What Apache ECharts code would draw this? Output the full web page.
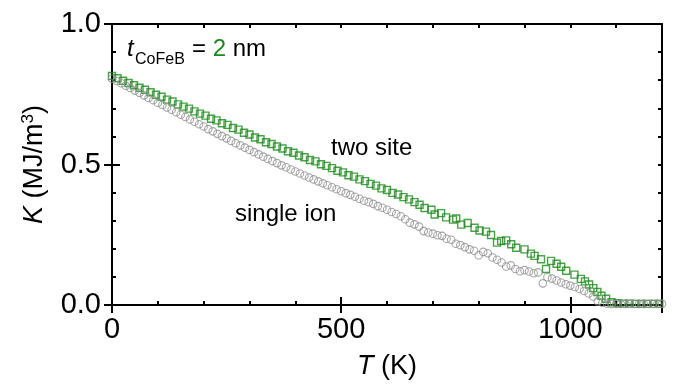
<!DOCTYPE html>
<html>
<head>
<meta charset="utf-8">
<script src="https://cdn.jsdelivr.net/npm/echarts@6/dist/echarts.min.js"></script>
<style>
  html, body { margin: 0; padding: 0; background: #fff; }
  #main { width: 678px; height: 385px; }
</style>
</head>
<body>
<div id="main"></div>
<script>
// single ion (grey circles)
const tSingle = [0,10,20,30,40,50,60,70,80,90,100,110,120,130,140,150,160,170,180,190,
  200,210,220,230,240,250,260,270,280,290,300,310,320,330,340,350,360,370,380,390,
  400,410,420,430,440,450,460,470,480,490,500,510,520,530,540,550,560,570,580,590,
  600,610,620,630,640,650,660,670,680,690,700,710,720,730,740,750,760,770,780,790,
  800,810,820,830,840,850,860,870,880,890,900,910,920,930,940,950,960,970,980,990,
  1000,1010,1020,1030,1040,1050,1060,1070,1080,1090,1100,1110,1120,1130,1140,1150,1160,1170,1180,1190,1200];
const kSingle = [.805,.797,.789,.780,.772,.763,.755,.746,.737,.729,.720,.712,.703,.695,.686,.677,.669,.660,.652,.643,
  .635,.626,.618,.609,.601,.593,.584,.576,.568,.560,.552,.544,.536,.528,.520,.512,.505,.497,.490,.482,
  .475,.468,.461,.454,.447,.440,.433,.426,.419,.412,.405,.398,.392,.385,.378,.371,.366,.360,.352,.346,
  .339,.331,.324,.316,.305,.293,.287,.279,.263,.258,.254,.248,.246,.236,.232,.218,.213,.206,.198,.193,
  .177,.189,.184,.169,.161,.151,.137,.141,.128,.120,.124,.119,.113,.116,.077,.099,.094,.087,.080,.074,
  .069,.064,.057,.050,.041,.030,.013,.008,.005,.004,.004,.004,.004,.004,.004,.004,.004,.004,.004,.004,.004];

// two site (green squares)
const tTwo = [0,12,24,36,48,60,72,84,96,108,120,132,144,156,168,180,192,204,216,228,
  240,252,264,276,288,300,312,324,336,348,360,372,384,396,408,420,432,444,456,468,
  480,492,504,516,528,540,552,564,576,588,600,612,624,636,648,660,671,682,697,704,
  718,729,744,751,762,776,791,802,816,827,840,849,860,871,882,900,914,922,936,947,
  958,970,980,991,1009,1023,1032,1041,1050,1059,1068,1078,1090,1103,1116,1129,1142,1155,1168,1181,1194];
const kTwo = [.815,.807,.798,.790,.782,.773,.766,.757,.748,.741,.731,.724,.714,.706,.699,.689,.681,.674,.663,.657,
  .647,.641,.630,.624,.613,.607,.596,.590,.579,.573,.564,.557,.547,.542,.532,.526,.516,.511,.501,.495,
  .487,.478,.472,.462,.457,.447,.441,.431,.425,.415,.409,.399,.393,.384,.376,.366,.357,.345,.339,.322,
  .327,.312,.304,.308,.286,.292,.275,.265,.261,.249,.222,.228,.230,.216,.204,.198,.183,.175,.163,.128,
  .157,.147,.136,.122,.108,.093,.084,.073,.060,.046,.033,.022,.010,.006,.005,.005,.004,.004,.004,.004,.004];

const xLabels = [0, 500, 1000];
const yLabels = [0, 0.5, 1.0];

const FONT = 'Liberation Sans, Arial, sans-serif';
const GREEN = '#1b8a1b';
const GREY = '#909090';

const chart = echarts.init(document.getElementById('main'), null, { renderer: 'canvas' });

function frameAxis(pos, interval, len, extra) {
  return Object.assign({
    type: 'value',
    position: pos,
    interval: interval,
    axisLine: { show: true, onZero: false, lineStyle: { color: '#000', width: 2 } },
    axisTick: { show: true, inside: true, length: len, lineStyle: { color: '#000', width: 2 } },
    axisLabel: { show: false },
    splitLine: { show: false }
  }, extra);
}

const xr = { min: 0, max: 1200 };
const yr = { min: 0, max: 1 };

const option = {
  backgroundColor: '#fff',
  animation: false,
  grid: { left: 112, right: 16, top: 24, bottom: 77, containLabel: false },
  xAxis: [
    frameAxis('bottom', 100, 4, Object.assign({
      name: '{i|T} (K)',
      nameLocation: 'middle',
      nameGap: 48,
      nameTextStyle: {
        color: '#000', fontSize: 27, fontFamily: FONT,
        rich: { i: { fontStyle: 'italic', fontSize: 27, fontFamily: FONT, color: '#000' } }
      },
      axisLabel: {
        show: true, color: '#000', fontSize: 29, fontFamily: FONT, margin: 10,
        formatter: v => xLabels.indexOf(v) >= 0 ? String(v) : ''
      }
    }, xr)),
    frameAxis('bottom', 500, 8, Object.assign({ axisLine: { show: false } }, xr)),
    frameAxis('top', 100, 4, xr),
    frameAxis('top', 500, 8, Object.assign({ axisLine: { show: false } }, xr))
  ],
  yAxis: [
    frameAxis('left', 0.1, 4, Object.assign({
      name: '{i|K} (MJ/m{s|3})',
      nameLocation: 'middle',
      nameGap: 63,
      nameRotate: 90,
      nameTextStyle: {
        color: '#000', fontSize: 27, fontFamily: FONT,
        rich: {
          i: { fontStyle: 'italic', fontSize: 27, fontFamily: FONT, color: '#000' },
          s: { fontSize: 17, fontFamily: FONT, color: '#000', verticalAlign: 'top', padding: [0, 0, 12, 0] }
        }
      },
      axisLabel: {
        show: true, color: '#000', fontSize: 29, fontFamily: FONT, margin: 11,
        formatter: v => yLabels.some(l => Math.abs(l - v) < 1e-6) ? v.toFixed(1) : ''
      }
    }, yr)),
    frameAxis('left', 0.5, 8, Object.assign({ axisLine: { show: false } }, yr)),
    frameAxis('right', 0.1, 4, yr),
    frameAxis('right', 0.5, 8, Object.assign({ axisLine: { show: false } }, yr))
  ],
  series: [
    {
      name: 'two site',
      type: 'scatter',
      symbol: 'rect',
      symbolSize: 7,
      itemStyle: { color: 'rgba(255,255,255,0)', borderColor: GREEN, borderWidth: 1.4 },
      data: tTwo.map((t, i) => [t, kTwo[i]]),
      z: 2
    },
    {
      name: 'single ion',
      type: 'scatter',
      symbol: 'circle',
      symbolSize: 7.5,
      itemStyle: { color: 'rgba(255,255,255,0)', borderColor: GREY, borderWidth: 1.1 },
      data: tSingle.map((t, i) => [t, kSingle[i]]),
      z: 3
    }
  ],
  graphic: [
    { type: 'text', left: 127, top: 37, style: { text: 't', font: 'italic 24px ' + FONT, fill: '#000' } },
    { type: 'text', left: 135, top: 52, style: { text: 'CoFeB', font: '16px ' + FONT, fill: '#000' } },
    {
      type: 'text', left: 192, top: 37,
      style: {
        text: '{n|= }{g|2}{n| nm}',
        rich: {
          n: { font: '24px ' + FONT, fill: '#000' },
          g: { font: '24px ' + FONT, fill: GREEN }
        }
      }
    },
    { type: 'text', left: 331, top: 136, style: { text: 'two site', font: '24px ' + FONT, fill: '#000' } },
    { type: 'text', left: 235, top: 202, style: { text: 'single ion', font: '24px ' + FONT, fill: '#000' } }
  ]
};

chart.setOption(option);
window.addEventListener('resize', () => {
  chart.resize();
});
</script>
</body>
</html>
